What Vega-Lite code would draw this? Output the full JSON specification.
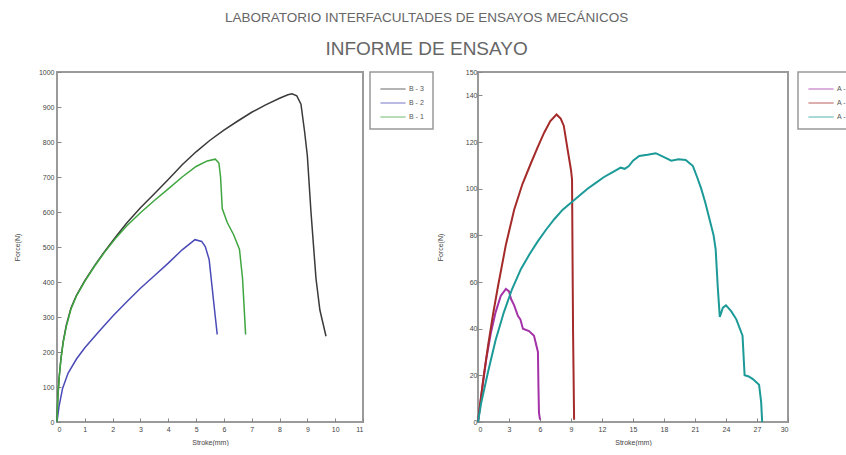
{
  "$schema": "https://vega.github.io/schema/vega-lite/v6.json",
  "background": "white",
  "padding": {"left": 12, "top": 10, "right": 0, "bottom": 0},
  "title": {
    "text": "LABORATORIO INTERFACULTADES DE ENSAYOS MECÁNICOS",
    "subtitle": "INFORME DE ENSAYO",
    "fontSize": 13.5,
    "subtitleFontSize": 19,
    "font": "Liberation Sans",
    "subtitleFont": "Liberation Sans",
    "color": "#666",
    "subtitleColor": "#666",
    "fontWeight": "normal",
    "anchor": "middle",
    "dx": -11,
    "subtitlePadding": 16,
    "offset": 8
  },
  "datasets": {
    "left": [
      {"sample": "B - 3", "stroke": 0, "force": 0},
      {"sample": "B - 3", "stroke": 0.03, "force": 70},
      {"sample": "B - 3", "stroke": 0.08, "force": 130},
      {"sample": "B - 3", "stroke": 0.14, "force": 180},
      {"sample": "B - 3", "stroke": 0.22, "force": 228},
      {"sample": "B - 3", "stroke": 0.33, "force": 275},
      {"sample": "B - 3", "stroke": 0.5, "force": 325},
      {"sample": "B - 3", "stroke": 0.7, "force": 362},
      {"sample": "B - 3", "stroke": 1, "force": 404},
      {"sample": "B - 3", "stroke": 1.35, "force": 447},
      {"sample": "B - 3", "stroke": 1.7, "force": 486},
      {"sample": "B - 3", "stroke": 2.1, "force": 528},
      {"sample": "B - 3", "stroke": 2.5, "force": 568},
      {"sample": "B - 3", "stroke": 3, "force": 612},
      {"sample": "B - 3", "stroke": 3.5, "force": 652},
      {"sample": "B - 3", "stroke": 4, "force": 693},
      {"sample": "B - 3", "stroke": 4.5, "force": 735},
      {"sample": "B - 3", "stroke": 5, "force": 772},
      {"sample": "B - 3", "stroke": 5.5, "force": 805},
      {"sample": "B - 3", "stroke": 6, "force": 834},
      {"sample": "B - 3", "stroke": 6.5, "force": 860},
      {"sample": "B - 3", "stroke": 7, "force": 885},
      {"sample": "B - 3", "stroke": 7.5, "force": 906},
      {"sample": "B - 3", "stroke": 8, "force": 925},
      {"sample": "B - 3", "stroke": 8.3, "force": 935},
      {"sample": "B - 3", "stroke": 8.45, "force": 938},
      {"sample": "B - 3", "stroke": 8.62, "force": 932},
      {"sample": "B - 3", "stroke": 8.77, "force": 908},
      {"sample": "B - 3", "stroke": 8.9, "force": 830},
      {"sample": "B - 3", "stroke": 9.0, "force": 760},
      {"sample": "B - 3", "stroke": 9.13, "force": 600},
      {"sample": "B - 3", "stroke": 9.31, "force": 410},
      {"sample": "B - 3", "stroke": 9.45, "force": 320},
      {"sample": "B - 3", "stroke": 9.67, "force": 245},
      {"sample": "B - 2", "stroke": 0, "force": 0},
      {"sample": "B - 2", "stroke": 0.07, "force": 43},
      {"sample": "B - 2", "stroke": 0.2, "force": 96},
      {"sample": "B - 2", "stroke": 0.4, "force": 140},
      {"sample": "B - 2", "stroke": 0.7, "force": 180},
      {"sample": "B - 2", "stroke": 1, "force": 212},
      {"sample": "B - 2", "stroke": 1.5, "force": 258},
      {"sample": "B - 2", "stroke": 2, "force": 302},
      {"sample": "B - 2", "stroke": 2.5, "force": 343},
      {"sample": "B - 2", "stroke": 3, "force": 382},
      {"sample": "B - 2", "stroke": 3.5, "force": 418},
      {"sample": "B - 2", "stroke": 4, "force": 454},
      {"sample": "B - 2", "stroke": 4.5, "force": 492},
      {"sample": "B - 2", "stroke": 4.96, "force": 521},
      {"sample": "B - 2", "stroke": 5.2, "force": 516},
      {"sample": "B - 2", "stroke": 5.33, "force": 501},
      {"sample": "B - 2", "stroke": 5.47, "force": 464},
      {"sample": "B - 2", "stroke": 5.65, "force": 330},
      {"sample": "B - 2", "stroke": 5.76, "force": 250},
      {"sample": "B - 1", "stroke": 0, "force": 0},
      {"sample": "B - 1", "stroke": 0.03, "force": 70},
      {"sample": "B - 1", "stroke": 0.08, "force": 128},
      {"sample": "B - 1", "stroke": 0.14, "force": 178},
      {"sample": "B - 1", "stroke": 0.22, "force": 226},
      {"sample": "B - 1", "stroke": 0.33, "force": 272},
      {"sample": "B - 1", "stroke": 0.5, "force": 322},
      {"sample": "B - 1", "stroke": 0.7, "force": 360},
      {"sample": "B - 1", "stroke": 1, "force": 402},
      {"sample": "B - 1", "stroke": 1.35, "force": 445},
      {"sample": "B - 1", "stroke": 1.7, "force": 484},
      {"sample": "B - 1", "stroke": 2.1, "force": 524},
      {"sample": "B - 1", "stroke": 2.5, "force": 560},
      {"sample": "B - 1", "stroke": 3, "force": 598},
      {"sample": "B - 1", "stroke": 3.5, "force": 633},
      {"sample": "B - 1", "stroke": 4, "force": 666},
      {"sample": "B - 1", "stroke": 4.5, "force": 700},
      {"sample": "B - 1", "stroke": 5, "force": 730},
      {"sample": "B - 1", "stroke": 5.4, "force": 746},
      {"sample": "B - 1", "stroke": 5.69, "force": 751},
      {"sample": "B - 1", "stroke": 5.82, "force": 740},
      {"sample": "B - 1", "stroke": 5.88, "force": 700},
      {"sample": "B - 1", "stroke": 5.94, "force": 610},
      {"sample": "B - 1", "stroke": 6.12, "force": 570},
      {"sample": "B - 1", "stroke": 6.35, "force": 535},
      {"sample": "B - 1", "stroke": 6.56, "force": 493},
      {"sample": "B - 1", "stroke": 6.67, "force": 410},
      {"sample": "B - 1", "stroke": 6.78, "force": 250}
    ],
    "right": [
      {"sample": "A - 3", "stroke": 0, "force": 0},
      {"sample": "A - 3", "stroke": 0.4, "force": 14},
      {"sample": "A - 3", "stroke": 0.8, "force": 27},
      {"sample": "A - 3", "stroke": 1.26, "force": 38.5},
      {"sample": "A - 3", "stroke": 1.7, "force": 47},
      {"sample": "A - 3", "stroke": 2.2, "force": 54},
      {"sample": "A - 3", "stroke": 2.7, "force": 57},
      {"sample": "A - 3", "stroke": 3.0, "force": 56},
      {"sample": "A - 3", "stroke": 3.2, "force": 52.7},
      {"sample": "A - 3", "stroke": 3.5, "force": 50},
      {"sample": "A - 3", "stroke": 3.87, "force": 45.4},
      {"sample": "A - 3", "stroke": 4.1, "force": 44},
      {"sample": "A - 3", "stroke": 4.35, "force": 40},
      {"sample": "A - 3", "stroke": 4.94, "force": 39},
      {"sample": "A - 3", "stroke": 5.42, "force": 37},
      {"sample": "A - 3", "stroke": 5.8, "force": 30},
      {"sample": "A - 3", "stroke": 5.85, "force": 15},
      {"sample": "A - 3", "stroke": 5.9, "force": 4},
      {"sample": "A - 3", "stroke": 6.0, "force": 1},
      {"sample": "A - 2", "stroke": 0, "force": 0},
      {"sample": "A - 2", "stroke": 0.1, "force": 4},
      {"sample": "A - 2", "stroke": 0.5, "force": 18},
      {"sample": "A - 2", "stroke": 0.97, "force": 32.6},
      {"sample": "A - 2", "stroke": 1.45, "force": 46},
      {"sample": "A - 2", "stroke": 1.94, "force": 58.3},
      {"sample": "A - 2", "stroke": 2.7, "force": 76},
      {"sample": "A - 2", "stroke": 3.5, "force": 91},
      {"sample": "A - 2", "stroke": 4.3, "force": 102},
      {"sample": "A - 2", "stroke": 5.13, "force": 111},
      {"sample": "A - 2", "stroke": 5.8, "force": 118},
      {"sample": "A - 2", "stroke": 6.4, "force": 124},
      {"sample": "A - 2", "stroke": 7.0, "force": 129},
      {"sample": "A - 2", "stroke": 7.6, "force": 131.8},
      {"sample": "A - 2", "stroke": 8.0, "force": 130},
      {"sample": "A - 2", "stroke": 8.3, "force": 127},
      {"sample": "A - 2", "stroke": 8.7, "force": 116},
      {"sample": "A - 2", "stroke": 9.0, "force": 108},
      {"sample": "A - 2", "stroke": 9.1, "force": 104},
      {"sample": "A - 2", "stroke": 9.15, "force": 70},
      {"sample": "A - 2", "stroke": 9.2, "force": 38.5},
      {"sample": "A - 2", "stroke": 9.3, "force": 1},
      {"sample": "A - 1", "stroke": 0, "force": 0},
      {"sample": "A - 1", "stroke": 0.3, "force": 8},
      {"sample": "A - 1", "stroke": 0.97, "force": 21.4},
      {"sample": "A - 1", "stroke": 1.7, "force": 35},
      {"sample": "A - 1", "stroke": 2.5, "force": 47},
      {"sample": "A - 1", "stroke": 3.3, "force": 57},
      {"sample": "A - 1", "stroke": 4.16, "force": 65.6},
      {"sample": "A - 1", "stroke": 5.0, "force": 72},
      {"sample": "A - 1", "stroke": 5.8, "force": 77.5},
      {"sample": "A - 1", "stroke": 6.6, "force": 82.5},
      {"sample": "A - 1", "stroke": 7.4, "force": 87},
      {"sample": "A - 1", "stroke": 8.2, "force": 91},
      {"sample": "A - 1", "stroke": 9.0, "force": 94},
      {"sample": "A - 1", "stroke": 9.8, "force": 97},
      {"sample": "A - 1", "stroke": 10.6, "force": 100},
      {"sample": "A - 1", "stroke": 11.4, "force": 102.5},
      {"sample": "A - 1", "stroke": 12.2, "force": 105},
      {"sample": "A - 1", "stroke": 13.0, "force": 107},
      {"sample": "A - 1", "stroke": 13.8, "force": 109},
      {"sample": "A - 1", "stroke": 14.2, "force": 108.5},
      {"sample": "A - 1", "stroke": 14.6, "force": 109.7},
      {"sample": "A - 1", "stroke": 15.0, "force": 112},
      {"sample": "A - 1", "stroke": 15.6, "force": 114},
      {"sample": "A - 1", "stroke": 16.4, "force": 114.5},
      {"sample": "A - 1", "stroke": 17.2, "force": 115.2},
      {"sample": "A - 1", "stroke": 18.0, "force": 113.5},
      {"sample": "A - 1", "stroke": 18.7, "force": 112},
      {"sample": "A - 1", "stroke": 19.4, "force": 112.6},
      {"sample": "A - 1", "stroke": 20.1, "force": 112.3},
      {"sample": "A - 1", "stroke": 20.8, "force": 109.7},
      {"sample": "A - 1", "stroke": 21.2, "force": 105},
      {"sample": "A - 1", "stroke": 21.6, "force": 100},
      {"sample": "A - 1", "stroke": 22.0, "force": 94},
      {"sample": "A - 1", "stroke": 22.4, "force": 87},
      {"sample": "A - 1", "stroke": 22.8, "force": 80},
      {"sample": "A - 1", "stroke": 23.0, "force": 74},
      {"sample": "A - 1", "stroke": 23.2, "force": 58},
      {"sample": "A - 1", "stroke": 23.4, "force": 45},
      {"sample": "A - 1", "stroke": 23.7, "force": 49},
      {"sample": "A - 1", "stroke": 24.0, "force": 50},
      {"sample": "A - 1", "stroke": 24.5, "force": 47.5},
      {"sample": "A - 1", "stroke": 25.0, "force": 44},
      {"sample": "A - 1", "stroke": 25.6, "force": 37},
      {"sample": "A - 1", "stroke": 25.8, "force": 20},
      {"sample": "A - 1", "stroke": 26.2, "force": 19.5},
      {"sample": "A - 1", "stroke": 26.6, "force": 18.4},
      {"sample": "A - 1", "stroke": 27.2, "force": 16},
      {"sample": "A - 1", "stroke": 27.4, "force": 8.6},
      {"sample": "A - 1", "stroke": 27.5, "force": 0}
    ]
  },
  "config": {
    "font": "Liberation Sans",
    "view": {"stroke": "#9a9a9a", "strokeWidth": 2},
    "axis": {
      "domain": false,
      "grid": false,
      "tickColor": "#888",
      "tickSize": -4,
      "labelFontSize": 7,
      "labelColor": "#444",
      "titleFontSize": 7,
      "titleFontWeight": "normal",
      "titleColor": "#444",
      "labelPadding": 7
    },
    "legend": {
      "orient": "right",
      "offset": 7,
      "strokeColor": "#999",
      "strokeWidth": 1.5,
      "padding": 9,
      "labelFontSize": 7,
      "labelColor": "#555",
      "symbolType": "M-1.8,0H1.8",
      "symbolStrokeWidth": 1.5,
      "symbolSize": 196,
      "symbolOffset": 6,
      "labelOffset": 8,
      "symbolOpacity": 0.5,
      "rowPadding": 3,
      "title": null
    }
  },
  "spacing": 0,
  "hconcat": [
    {
      "width": 306,
      "height": 350,
      "data": {"name": "left"},
      "mark": {"type": "line", "strokeWidth": 1.5},
      "encoding": {
        "x": {"field": "stroke", "type": "quantitative", "title": "Stroke(mm)",
              "scale": {"domain": [0, 11], "nice": false},
              "axis": {"values": [0,1,2,3,4,5,6,7,8,9,10,11], "titlePadding": 6}},
        "y": {"field": "force", "type": "quantitative", "title": "Force(N)",
              "scale": {"domain": [0, 1000], "nice": false},
              "axis": {"values": [0,100,200,300,400,500,600,700,800,900,1000], "format": "d", "titlePadding": 18}},
        "color": {"field": "sample", "type": "nominal",
                  "scale": {"domain": ["B - 3", "B - 2", "B - 1"], "range": ["#3a3a3a", "#4a4ab8", "#3fa63f"]},
                  "legend": {"title": null}}
      }
    },
    {
      "width": 310,
      "height": 350,
      "data": {"name": "right"},
      "mark": {"type": "line", "strokeWidth": 2},
      "encoding": {
        "x": {"field": "stroke", "type": "quantitative", "title": "Stroke(mm)",
              "scale": {"domain": [0, 30], "nice": false},
              "axis": {"values": [0,3,6,9,12,15,18,21,24,27,30], "titlePadding": 6}},
        "y": {"field": "force", "type": "quantitative", "title": "Force(N)",
              "scale": {"domain": [0, 150], "nice": false},
              "axis": {"values": [0,20,40,60,80,100,120,140,150], "titlePadding": 22, "labelPadding": 5}},
        "color": {"field": "sample", "type": "nominal",
                  "scale": {"domain": ["A - 3", "A - 2", "A - 1"], "range": ["#a432a8", "#a52a2a", "#1c9a98"]},
                  "legend": {"title": null, "offset": 10}}
      }
    }
  ],
  "resolve": {"scale": {"color": "independent"}, "legend": {"color": "independent"}}
}
